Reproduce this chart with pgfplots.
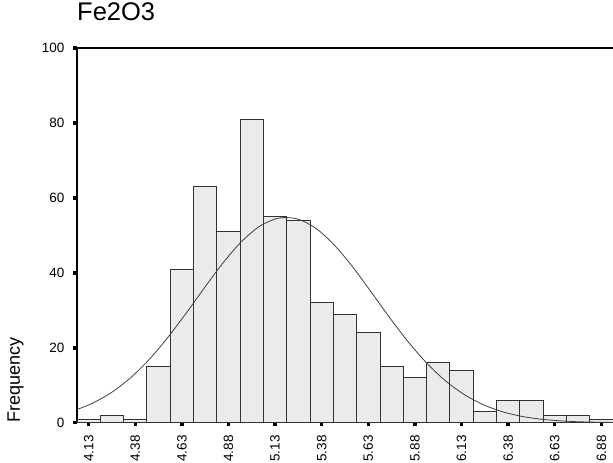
\documentclass[border=0pt]{standalone}
\usepackage{pgfplots}
\pgfplotsset{compat=1.18}
\usepackage{fontspec}
\setmainfont{Liberation Sans}
\usetikzlibrary{calc}
\definecolor{barfill}{RGB}{235,235,235}
\definecolor{baredge}{RGB}{50,50,50}
\begin{document}
\begin{tikzpicture}
\begin{axis}[
  scale only axis,
  width=536bp, height=374.7bp,
  xmin=4.0675, xmax=6.9425, ymin=0, ymax=100,
  axis lines=left,
  axis line style={-, line width=1.2bp, black},
  xtick={4.13,4.38,4.63,4.88,5.13,5.38,5.63,5.88,6.13,6.38,6.63,6.88},
  xticklabels={4.13,4.38,4.63,4.88,5.13,5.38,5.63,5.88,6.13,6.38,6.63,6.88},
  ytick={0,20,40,60,80,100},
  yticklabels={0,20,40,60,80,100},
  tick align=outside,
  major tick length=3.5bp,
  tick style={line width=3.5bp, black},
  xticklabel shift=9bp,
  xticklabel style={rotate=90, anchor=east, inner sep=0pt, font=\fontsize{13.5bp}{13.5bp}\selectfont},
  yticklabel style={anchor=east, inner sep=0pt, font=\fontsize{13.5bp}{13.5bp}\selectfont, xshift=-9bp},
  title={Fe2O3},
  title style={at={(axis description cs:0,1)}, anchor=base west, yshift=22bp, inner sep=0pt, font=\fontsize{25.5bp}{25.5bp}\selectfont},
  ylabel={Frequency},
  ylabel style={at={(axis description cs:-0.1147,0)}, anchor=west, inner sep=0pt, font=\fontsize{18bp}{18bp}\selectfont},
  clip=false,
]
\addplot[ybar interval, fill=barfill, draw=baredge, line width=0.9bp] coordinates {
(4.0675,1) (4.1925,2) (4.3175,1) (4.4425,15) (4.5675,41) (4.6925,63)
(4.8175,51) (4.9425,81) (5.0675,55) (5.1925,54) (5.3175,32) (5.4425,29)
(5.5675,24) (5.6925,15) (5.8175,12) (5.9425,16) (6.0675,14) (6.1925,3)
(6.3175,6) (6.4425,6) (6.5675,2) (6.6925,2) (6.8175,1) (6.9425,1)
};
\addplot[smooth, draw=black!75, line width=0.8bp] coordinates {
(4.0675,3.52) (4.15,5.19) (4.25,7.99) (4.35,11.78) (4.45,16.62) (4.55,22.45)
(4.65,29.03) (4.75,35.94) (4.85,42.60) (4.95,48.33) (5.05,52.51) (5.15,54.61)
(5.25,54.37) (5.35,51.83) (5.45,47.29) (5.55,41.32) (5.65,34.56) (5.75,27.67)
(5.85,21.21) (5.95,15.56) (6.05,10.93) (6.15,7.35) (6.25,4.73) (6.35,2.92)
(6.45,1.72) (6.55,0.97) (6.65,0.53) (6.75,0.27) (6.85,0.135) (6.9425,0.07)
};
\draw[line width=1.2bp, black] (rel axis cs:0,1) -- (rel axis cs:1,1);
\coordinate (SW) at (rel axis cs:0,0);
\coordinate (NE) at (rel axis cs:1,1);
\end{axis}
\pgfresetboundingbox
\path[use as bounding box] ($(SW)+(-77bp,-40.3bp)$) rectangle ($(NE)+(0bp,48bp)$);
\end{tikzpicture}
\end{document}
